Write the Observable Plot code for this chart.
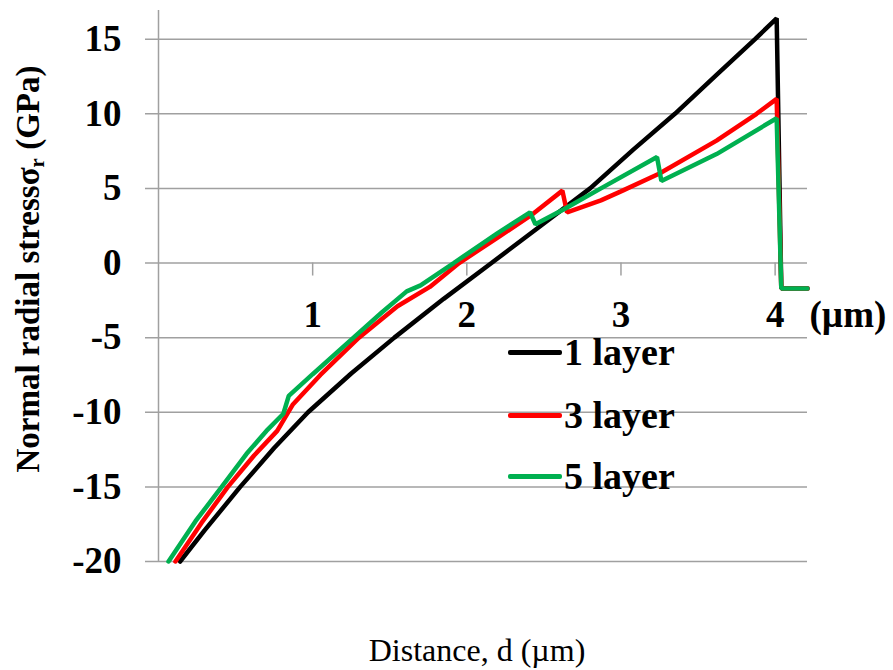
<!DOCTYPE html>
<html>
<head>
<meta charset="utf-8">
<script src="https://cdn.jsdelivr.net/npm/d3@7"></script>
<script src="https://cdn.jsdelivr.net/npm/@observablehq/plot@0.6"></script>
<style>
  body { margin: 0; background: #fff; }
  #wrap { position: relative; width: 893px; height: 670px; font-family: "Liberation Serif", "Times New Roman", serif; }
  #wrap svg { position: absolute; left: 0; top: 0; }
  .ytitle { position: absolute; left: 30px; top: 269px; transform: translate(-50%, -50%) rotate(-90deg); white-space: nowrap; font-weight: bold; font-size: 33px; color: #000; }
  .ytitle sub { font-size: 21px; vertical-align: -5px; }
  .xtitle { position: absolute; left: 477px; top: 650px; transform: translate(-50%, -50%); white-space: nowrap; font-size: 32px; color: #000; }
  .leg { position: absolute; left: 508px; display: flex; align-items: center; transform: translateY(-50%); }
  .leg .sw { width: 54px; height: 5px; border-radius: 2px; }
  .leg .lb { font-weight: bold; font-size: 38px; margin-left: 2px; line-height: 1; }
</style>
</head>
<body>
<div id="wrap"></div>
<script>
// ---- data ----
const seriesNames = ["1 layer", "3 layer", "5 layer"];
const seriesColors = ["#000000", "#ff0000", "#00b050"];
const xTicks = [1, 2, 3, 4];
const yTicks = [-20, -15, -10, -5, 0, 5, 10, 15];

// [distance (µm), stress (GPa)]
const layer1 = [
  [0.14, -20], [0.30, -17.9], [0.53, -15], [0.75, -12.4], [0.97, -10],
  [1.25, -7.4], [1.53, -5], [1.85, -2.4], [2.16, 0], [2.48, 2.5],
  [2.80, 5], [3.08, 7.6], [3.35, 10], [3.62, 12.6], [3.87, 15],
  [4.01, 16.4], [4.04, -1.7], [4.21, -1.7]
];
const layer3 = [
  [0.11, -20], [0.28, -17.4], [0.45, -15], [0.62, -12.9], [0.77, -11.25],
  [0.87, -9.5], [1.05, -7.5], [1.30, -5], [1.55, -2.9], [1.76, -1.6],
  [1.95, 0], [2.20, 1.7], [2.43, 3.3], [2.62, 4.85], [2.65, 3.4],
  [2.87, 4.2], [3.00, 4.8], [3.25, 6.0], [3.62, 8.2], [3.88, 10],
  [4.01, 11.0], [4.04, -1.7], [4.21, -1.7]
];
const layer5 = [
  [0.065, -20], [0.24, -17.3], [0.41, -15], [0.57, -12.8], [0.70, -11.25],
  [0.81, -10.1], [0.845, -8.9], [1.00, -7.45], [1.265, -5], [1.45, -3.3],
  [1.61, -1.9], [1.70, -1.5], [1.915, 0], [2.00, 0.6], [2.20, 2.0],
  [2.41, 3.4], [2.445, 2.6], [2.63, 3.6], [2.87, 5.0], [3.234, 7.1],
  [3.262, 5.5], [3.62, 7.3], [4.01, 9.7], [4.04, -1.7], [4.21, -1.7]
];
const seriesData = [layer1, layer3, layer5];

const grid = "#a0a0a0";

const lineMarks = seriesData.map((pts, i) =>
  Plot.line(pts, {x: d => d[0], y: d => d[1], stroke: seriesColors[i], strokeWidth: 4.5,
    strokeLinejoin: "miter"})
);

const chart = Plot.plot({
  width: 893,
  height: 670,
  marginLeft: 158,
  marginRight: 86,
  marginTop: 10,
  marginBottom: 109,
  x: {domain: [0, 4.21], axis: null},
  y: {domain: [-20, 16.92], axis: null},
  style: {fontFamily: "Liberation Serif, Times New Roman, serif", fontWeight: "bold", fontSize: "37px", background: "white", color: "black", overflow: "visible"},
  marks: [
    Plot.ruleY(yTicks, {y: d => d, stroke: grid, strokeWidth: 1.5, insetLeft: -13}),
    Plot.ruleX([0], {x: d => d, stroke: grid, strokeWidth: 1.5}),
    Plot.ruleX(xTicks, {x: d => d, y1: 0, y2: 0, insetBottom: -13, stroke: grid, strokeWidth: 1.5}),
    Plot.text(yTicks, {y: d => d, frameAnchor: "left", dx: -37, textAnchor: "end", text: d => String(d), fill: "black"}),
    Plot.text(xTicks, {x: d => d, y: 0, dy: 52, text: d => String(d), fill: "black"}),
    Plot.text(["(µm)"], {frameAnchor: "right", y: 0, dx: 2, dy: 52, textAnchor: "start", text: d => d, fill: "black"}),
    ...lineMarks
  ]
});

const wrap = document.getElementById("wrap");
wrap.appendChild(chart);

// y-axis title
const yt = document.createElement("div");
yt.className = "ytitle";
yt.innerHTML = "Normal radial stress&sigma;<sub>r</sub> (GPa)";
wrap.appendChild(yt);

// x-axis title
const xt = document.createElement("div");
xt.className = "xtitle";
xt.textContent = "Distance, d (µm)";
wrap.appendChild(xt);

// legend
const legTops = [352, 415, 476];
seriesNames.forEach((name, i) => {
  const g = document.createElement("div");
  g.className = "leg";
  g.style.top = legTops[i] + "px";
  g.innerHTML = `<div class="sw" style="background:${seriesColors[i]}"></div><div class="lb">${name}</div>`;
  wrap.appendChild(g);
});
</script>
</body>
</html>
